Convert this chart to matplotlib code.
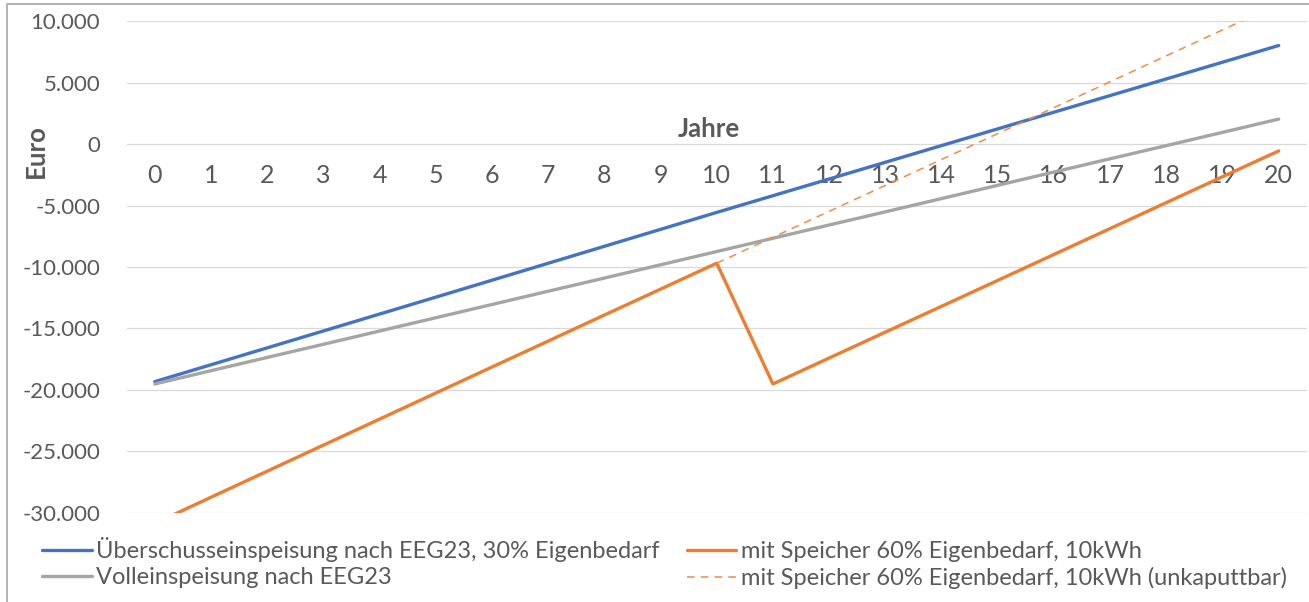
import matplotlib.pyplot as plt
from matplotlib.lines import Line2D
from matplotlib.ticker import FuncFormatter

plt.rcParams['font.family'] = ['Lato', 'DejaVu Sans']

# Kumulierter Ertrag der PV-Anlage über 20 Jahre (Euro)
jahre = list(range(21))
ueberschuss = [-19330, -17955, -16580, -15205, -13830, -12455, -11075, -9695, -8315, -6935,
               -5555, -4195, -2835, -1475, -115, 1245, 2600, 3955, 5310, 6670, 8030]
voll = [-19520, -18440, -17360, -16290, -15210, -14130, -13050, -11970, -10900, -9820,
        -8740, -7660, -6580, -5510, -4430, -3350, -2270, -1190, -120, 960, 2040]
speicher = [-30870, -28740, -26620, -24500, -22380, -20260, -18140, -16030, -13910, -11800,
            -9690, -19520, -17410, -15300, -13200, -11090, -8980, -6870, -4760, -2650, -550]
# Speicher ohne Ersatz nach 10 Jahren
jahre_unkaputtbar = list(range(10, 21))
speicher_unkaputtbar = [-9690, -7580, -5470, -3360, -1250, 860, 2970, 5080, 7190, 9300, 11410]

labels = ['Überschusseinspeisung nach EEG23, 30% Eigenbedarf',
          'Volleinspeisung nach EEG23',
          'mit Speicher 60% Eigenbedarf, 10kWh',
          'mit Speicher 60% Eigenbedarf, 10kWh (unkaputtbar)']

textfarbe = '#595959'

fig = plt.figure(figsize=(13.09, 6.02), dpi=100)
ax = fig.add_axes([0.0968, 0.1483, 0.9015, 0.8163])

stil = dict(lw=2.4, zorder=3, solid_capstyle='round', solid_joinstyle='round')
l1, = ax.plot(jahre, ueberschuss, color='#4472C4', **stil)
l2, = ax.plot(jahre, voll, color='#A5A5A5', **stil)
l3, = ax.plot(jahre, speicher, color='#ED7D31', **stil)
l4, = ax.plot(jahre_unkaputtbar, speicher_unkaputtbar, color='#F08A45', lw=1.1,
              ls=(0, (5, 4)), zorder=3)

ax.set_xlim(-0.5, 20.5)
ax.set_ylim(-30000, 10000)
ax.set_xticks(jahre)
ax.set_yticks(range(-30000, 10001, 5000))
ax.yaxis.set_major_formatter(FuncFormatter(lambda v, p: f'{int(v):,}'.replace(',', '.')))

ax.grid(axis='y', color='#D9D9D9', lw=0.9)
ax.set_axisbelow(True)
for s in ax.spines.values():
    s.set_visible(False)
# Kategorienachse schneidet bei 0
ax.spines['bottom'].set_position(('data', 0))
ax.tick_params(axis='x', length=0, pad=14, labelsize=18, labelcolor=textfarbe)
ax.tick_params(axis='y', length=0, pad=19, labelsize=16, labelcolor=textfarbe)

ax.text(0.4935, 1250, 'Jahre', transform=ax.get_yaxis_transform(), ha='center', va='center',
        fontsize=18.5, fontweight='bold', color=textfarbe)
fig.text(36 / 1309, 1 - 151 / 602, 'Euro', rotation=90, ha='center', va='center',
         fontsize=18.5, fontweight='bold', color=textfarbe)

leg = fig.legend([l1, l2, l3, l4], labels, loc='upper left', bbox_to_anchor=(42 / 1309, 1 - 537 / 602),
                 ncol=2, frameon=False, fontsize=17, handlelength=2.1, handletextpad=0.2,
                 columnspacing=1.14, labelspacing=0.22, borderpad=0, borderaxespad=0)
for t in leg.get_texts():
    t.set_color(textfarbe)

# Rahmen des Diagrammbereichs
fig.add_artist(Line2D([7 / 1309, 7 / 1309, 1], [0, 1 - 4 / 602, 1 - 4 / 602],
                      transform=fig.transFigure, color='#A6A6A6', lw=1.2))

fig.savefig('out.png', dpi=100)
